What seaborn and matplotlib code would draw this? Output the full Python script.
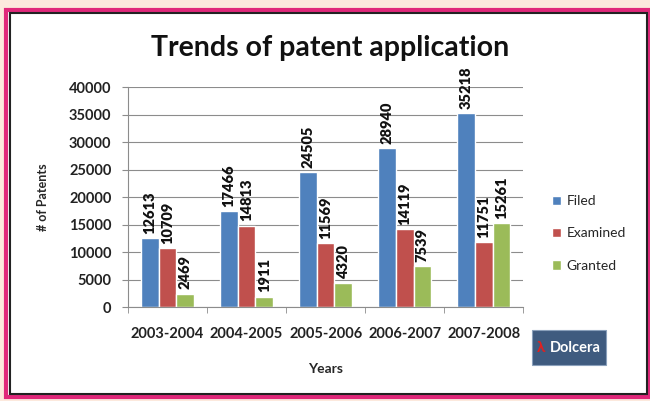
import pandas as pd
import seaborn as sns
import matplotlib.pyplot as plt
from matplotlib.patches import Rectangle

# Data
years = ['2003-2004', '2004-2005', '2005-2006', '2006-2007', '2007-2008']
filed = [12613, 17466, 24505, 28940, 35218]
examined = [10709, 14813, 11569, 14119, 11751]
granted = [2469, 1911, 4320, 7539, 15261]
series = ['Filed', 'Examined', 'Granted']
colors = ['#4f81bd', '#c0504d', '#9bbb59']

df = pd.DataFrame({
    'Years': years * 3,
    'Patents': filed + examined + granted,
    'Type': [s for s in series for _ in years],
})

sns.set_style('white')
plt.rcParams['font.family'] = ['Lato', 'DejaVu Sans']

fig = plt.figure(figsize=(6.5, 4.01), dpi=100, facecolor='#fce9dd')

# pink frame with black inner line (drawn behind the axes)
fig.patches.append(Rectangle((0.009, 0.01), 0.99, 0.966, transform=fig.transFigure,
                             facecolor='white', edgecolor='#e0287a', linewidth=3, zorder=-3))
fig.patches.append(Rectangle((0.016, 0.018), 0.98, 0.95, transform=fig.transFigure,
                             facecolor='none', edgecolor='#222222', linewidth=1.5, zorder=-2))

ax = fig.add_axes([0.197, 0.234, 0.608, 0.549])
ax.set_facecolor('none')
sns.barplot(data=df, x='Years', y='Patents', hue='Type', palette=colors,
            width=0.67, saturation=1, ax=ax, legend=True)

for c in ax.containers:
    ax.bar_label(c, rotation=90, padding=3, fontsize=10.5, fontweight='heavy', color='#111111')

ax.set_ylim(0, 40000)
ax.set_yticks(range(0, 40001, 5000))
ax.set_xlim(-0.5, 4.5)
ax.yaxis.grid(True, color='#8c8c8c', linewidth=0.8)
ax.set_axisbelow(True)
for s in ['top', 'right']:
    ax.spines[s].set_visible(False)
ax.spines['left'].set_color('#8c8c8c')
ax.spines['bottom'].set_color('#8c8c8c')

# category-boundary ticks like Excel
ax.set_xticks([i - 0.5 for i in range(6)], minor=True)
ax.tick_params(axis='x', which='major', length=0, pad=14)
ax.tick_params(axis='x', which='minor', length=4, color='#8c8c8c', direction='out', bottom=True)
ax.tick_params(axis='y', length=4, color='#8c8c8c', direction='out', left=True, pad=8)

for lbl in ax.get_xticklabels() + ax.get_yticklabels():
    lbl.set_fontweight('bold')
    lbl.set_fontsize(10.5)
    lbl.set_color('#222222')

ax.set_xlabel('Years', fontsize=10, fontweight='bold', labelpad=16)
ax.set_ylabel('# of Patents', fontsize=9, fontweight='bold', labelpad=14)

fig.text(0.508, 0.88, 'Trends of patent application', ha='center', va='center',
         fontsize=20.5, fontweight='bold', color='#111111')

ax.legend(loc='center left', bbox_to_anchor=(1.04, 0.335), frameon=False,
          fontsize=10, handlelength=0.7, handleheight=0.7, labelspacing=1.45,
          handletextpad=0.4)

# Dolcera logo box
fig.patches.append(Rectangle((0.818, 0.09), 0.115, 0.087, transform=fig.transFigure,
                             facecolor='#3f5b7f', edgecolor='#8aa0bb', linewidth=0.8, zorder=2))
fig.text(0.826, 0.133, 'λ', color='#e02020', fontsize=11, fontweight='bold',
         ha='left', va='center', zorder=3)
fig.text(0.846, 0.133, 'Dolcera', color='white', fontsize=10.5, fontweight='bold',
         ha='left', va='center', zorder=3)

fig.savefig('out.png', dpi=100, facecolor=fig.get_facecolor())
